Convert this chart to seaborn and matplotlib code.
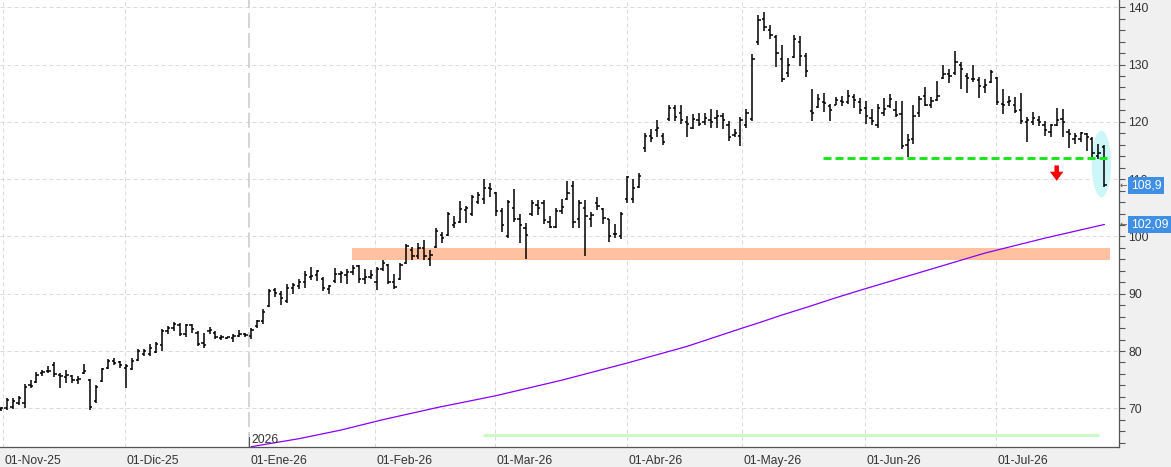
import numpy as np
import pandas as pd
import matplotlib
matplotlib.use("Agg")
import matplotlib.pyplot as plt
import matplotlib.transforms as mtransforms
from matplotlib.patches import Ellipse, FancyArrow
import seaborn as sns

# ---------------- data (daily OHLC bars, trading-day index) ----------------
high_vals = [
    70.3, 71.8, 71.8, 72.2, 74.3, 75.0, 76.4, 76.7, 77.4, 78.1,
    76.2, 76.7, 75.8, 75.7, 77.8, 75.1, 74.1, 77.1, 78.6, 78.8,
    78.3, 77.8, 78.8, 80.4, 80.4, 81.3, 81.5, 83.9, 84.4, 85.1,
    84.9, 84.8, 84.8, 83.5, 83.2, 84.2, 83.5, 82.8, 82.5, 83.0,
    83.7, 83.2, 84.1, 85.5, 87.4, 90.9, 91.0, 90.5, 91.7, 91.9,
    92.6, 94.0, 94.7, 94.2, 93.0, 91.6, 94.5, 94.0, 94.4, 95.1,
    95.1, 94.4, 94.2, 94.7, 95.9, 95.2, 93.5, 95.4, 98.6, 98.2,
    98.9, 99.3, 97.7, 101.4, 100.7, 104.3, 103.6, 106.1, 105.4, 107.3,
    107.7, 110.1, 109.4, 107.8, 105.0, 106.3, 108.2, 104.0, 102.4, 106.4,
    106.3, 106.4, 103.5, 105.0, 106.6, 109.6, 109.6, 106.3, 106.3, 104.3,
    106.8, 105.0, 103.1, 102.2, 104.3, 110.6, 110.1, 111.0, 118.0, 118.7,
    120.4, 118.0, 123.0, 122.9, 122.9, 121.1, 121.3, 121.5, 121.5, 122.2,
    122.0, 121.5, 120.1, 118.8, 120.8, 122.2, 131.8, 138.6, 139.1, 136.9,
    135.1, 133.4, 131.1, 135.1, 134.9, 132.1, 125.7, 124.8, 125.0, 123.2,
    124.4, 124.6, 125.5, 124.8, 124.1, 123.6, 122.3, 123.2, 124.1, 124.8,
    123.6, 123.6, 117.8, 122.9, 124.6, 126.0, 124.4, 127.1, 129.9, 129.2,
    132.3, 130.4, 128.6, 129.9, 127.9, 127.4, 129.0, 127.9, 125.7, 124.6,
    124.3, 125.1, 120.8, 121.8, 121.1, 120.1, 119.7, 122.5, 122.3, 118.8,
    118.1, 118.3, 118.0, 117.3, 116.1, 115.9,
]
low_vals = [
    69.6, 69.7, 69.8, 70.6, 70.1, 73.6, 74.4, 75.7, 76.2, 75.5,
    73.6, 74.4, 74.4, 74.3, 76.0, 69.7, 71.0, 74.6, 76.9, 77.6,
    77.1, 73.6, 76.7, 78.3, 79.2, 79.2, 79.6, 80.0, 83.0, 83.5,
    82.7, 82.5, 83.2, 80.9, 80.6, 83.0, 82.1, 82.0, 82.1, 81.6,
    82.5, 82.5, 82.1, 84.1, 84.8, 87.6, 89.5, 88.1, 88.3, 90.0,
    90.9, 91.0, 92.4, 92.3, 90.4, 90.0, 91.9, 91.9, 91.7, 93.3,
    91.9, 91.7, 92.6, 90.7, 94.0, 91.7, 90.9, 92.4, 95.2, 95.9,
    96.1, 95.9, 94.9, 98.0, 98.9, 100.1, 101.5, 102.4, 102.4, 103.6,
    105.6, 105.6, 106.8, 103.6, 100.7, 99.8, 102.6, 98.9, 96.1, 103.6,
    103.8, 102.1, 101.5, 101.4, 104.0, 106.3, 101.5, 101.5, 96.6, 101.7,
    104.7, 102.2, 99.1, 99.8, 99.6, 105.9, 105.9, 108.4, 114.7, 116.4,
    117.3, 115.9, 120.1, 120.1, 119.7, 117.3, 118.8, 119.2, 119.4, 119.0,
    119.0, 118.7, 116.6, 117.3, 115.7, 119.0, 120.2, 133.4, 135.8, 134.4,
    129.5, 126.9, 127.9, 131.1, 129.7, 127.9, 120.1, 122.5, 121.8, 120.2,
    122.9, 122.7, 123.2, 122.5, 121.3, 119.7, 119.5, 119.0, 121.1, 122.5,
    120.8, 115.2, 113.8, 116.2, 120.8, 122.7, 122.5, 123.6, 127.4, 126.7,
    128.1, 125.7, 125.0, 126.9, 124.1, 125.1, 126.7, 122.9, 121.3, 122.7,
    121.6, 119.7, 116.4, 119.5, 119.2, 117.6, 117.3, 119.2, 117.3, 115.5,
    116.2, 116.4, 115.0, 113.8, 113.6, 108.7,
]
open_vals = [
    69.8, 70.0, 70.3, 71.0, 71.0, 74.0, 74.6, 76.2, 76.5, 77.6,
    75.8, 75.4, 75.6, 75.0, 76.2, 75.0, 71.2, 74.8, 77.0, 78.2,
    78.0, 77.0, 76.8, 78.5, 79.4, 79.5, 79.8, 81.0, 83.5, 84.0,
    84.6, 83.0, 84.5, 83.2, 81.4, 83.5, 83.2, 82.3, 82.2, 82.3,
    82.7, 82.9, 82.6, 84.3, 85.3, 87.8, 90.6, 90.0, 88.8, 91.0,
    91.3, 92.0, 93.0, 93.2, 92.5, 90.8, 92.2, 93.4, 93.2, 93.8,
    94.8, 92.6, 93.0, 92.0, 94.3, 95.0, 92.0, 92.5, 95.3, 97.6,
    96.5, 98.0, 96.0, 98.2, 100.2, 100.3, 102.0, 102.5, 104.6, 104.0,
    106.0, 106.5, 108.4, 107.5, 104.5, 100.0, 105.0, 103.0, 101.5, 104.0,
    105.5, 105.9, 102.6, 101.6, 104.5, 106.5, 108.8, 103.0, 105.0, 103.0,
    105.8, 104.8, 103.0, 100.5, 100.0, 106.5, 106.5, 108.6, 115.5, 117.6,
    118.5, 117.5, 120.5, 122.4, 121.5, 120.0, 119.0, 120.4, 120.0, 120.3,
    120.6, 121.0, 119.5, 117.7, 117.5, 119.5, 120.5, 134.0, 138.0, 136.0,
    134.8, 131.0, 128.5, 131.3, 134.0, 131.5, 121.9, 122.6, 123.5, 122.8,
    123.0, 123.7, 123.5, 124.3, 123.5, 122.5, 120.6, 119.5, 121.5, 122.8,
    122.0, 121.3, 116.0, 117.0, 121.5, 124.5, 123.0, 123.8, 127.7, 128.3,
    128.5, 130.0, 128.0, 127.5, 127.3, 126.0, 127.0, 127.6, 123.2, 123.4,
    123.0, 122.0, 120.0, 120.0, 120.4, 119.5, 118.3, 119.5, 120.5, 118.2,
    117.0, 117.0, 117.8, 117.0, 114.0, 115.6,
]
close_vals = [
    70.0, 71.5, 71.2, 71.8, 73.8, 73.9, 75.8, 76.4, 76.6, 76.0,
    75.6, 75.9, 74.9, 75.1, 76.6, 70.3, 73.8, 76.8, 78.2, 77.9,
    77.6, 77.4, 78.3, 80.0, 80.0, 80.6, 81.2, 83.5, 84.0, 84.8,
    82.9, 84.6, 83.8, 81.3, 81.0, 83.6, 82.5, 82.5, 82.4, 82.6,
    82.9, 82.8, 83.7, 85.3, 86.8, 90.5, 90.2, 89.3, 91.0, 91.6,
    92.0, 93.2, 93.1, 94.0, 91.0, 91.3, 93.5, 93.6, 93.8, 94.5,
    92.5, 93.0, 93.3, 94.3, 95.3, 92.0, 91.2, 95.1, 98.3, 96.5,
    98.0, 96.5, 96.8, 101.0, 99.7, 104.0, 102.3, 104.8, 104.9, 106.8,
    107.3, 108.5, 108.3, 104.5, 102.0, 106.0, 103.0, 102.0, 100.2, 105.8,
    105.0, 102.8, 101.7, 104.5, 105.2, 107.5, 102.5, 105.8, 103.6, 103.8,
    105.3, 103.2, 100.0, 100.5, 104.0, 110.3, 108.5, 110.5, 117.5, 117.2,
    119.0, 116.5, 122.5, 120.8, 120.4, 119.6, 120.5, 119.6, 120.7, 120.0,
    121.0, 120.4, 117.4, 118.1, 120.4, 121.5, 131.0, 137.8, 136.5, 135.2,
    132.0, 127.5, 130.0, 134.5, 131.5, 128.8, 121.6, 124.0, 123.3, 122.1,
    123.8, 123.5, 124.6, 123.8, 122.0, 121.0, 120.2, 122.4, 122.2, 124.0,
    121.2, 115.8, 116.8, 121.0, 124.0, 123.0, 123.6, 124.5, 128.4, 128.0,
    130.5, 129.3, 127.6, 127.4, 126.2, 126.5, 128.7, 123.5, 123.0, 123.6,
    121.9, 120.2, 120.3, 120.6, 120.0, 118.5, 119.4, 120.3, 120.0, 117.8,
    117.5, 118.0, 117.3, 114.5, 114.6, 108.9,
]
assert len(high_vals) == len(low_vals) == len(open_vals) == len(close_vals) == 186

# moving average (sampled along the trading-day index)
ma_idx = [42, 50, 57, 64, 73, 83, 94, 105, 115, 124, 127, 131, 135, 140, 145,
          155, 165, 175, 185]
ma_val = [63.3, 64.7, 66.2, 68.0, 70.1, 72.2, 74.9, 77.9, 80.8, 83.9, 84.9, 86.3,
          87.6, 89.3, 90.9, 94.0, 97.1, 99.7, 102.09]

month_pos = [0.4, 20.8, 41.6, 62.8, 82.8, 104.9, 124.3, 144.9, 166.9]
month_labels = ["01-Nov-25", "01-Dic-25", "01-Ene-26", "01-Feb-26", "01-Mar-26",
                "01-Abr-26", "01-May-26", "01-Jun-26", "01-Jul-26"]
year_pos = 41.6
year_label = "2026"
yticks = [70, 80, 90, 100, 110, 120, 130, 140]

# annotation levels
SUPPORT = 113.7
SUPPORT_X = (137.8, 185.7)
ZONE_LO, ZONE_HI = 95.9, 97.95
ZONE_X = (58.9, 185.9)
FLOOR = 65.3
FLOOR_X = (80.8, 184.1)
ARROW_X, ARROW_TOP, ARROW_BOTTOM = 177.0, 112.4, 109.7
ELLIPSE_C = (184.5, 112.65)
ELLIPSE_WH = (3.24, 11.64)

# ---------------- figure ----------------
sns.set_style("white")
plt.rcParams['font.family'] = ['Liberation Sans', 'DejaVu Sans']

W, H = 1171, 467
PLOT_R, PLOT_B = 1118.7, 446.7
BAR_PX, FIRST_PX = 5.966, 0.7
PANEL = '#f0f0f0'

fig = plt.figure(figsize=(W / 100, H / 100), dpi=100, facecolor=PANEL)
ax = fig.add_axes([0, (H - PLOT_B) / H, PLOT_R / W, PLOT_B / H])
ax.set_facecolor('white')

x = np.arange(len(high_vals))
ax.set_xlim(-FIRST_PX / BAR_PX, (PLOT_R - FIRST_PX) / BAR_PX)
ax.set_ylim(63.3, 141.27)

# grid
for v in yticks:
    ax.axhline(v, color='#dadada', lw=0.72, ls=(0, (4, 3)), zorder=1)
for p in month_pos:
    if p == year_pos:
        continue
    ax.axvline(p, color='#dadada', lw=0.72, ls=(0, (4, 3)), zorder=1)
ax.axvline(year_pos, color='#c8c8c8', lw=1.08, ls=(0, (10, 3.3)), zorder=1)

# support zone & levels
ax.fill_between(list(ZONE_X), ZONE_LO, ZONE_HI, color='#ffc19f', lw=0, zorder=2)
ax.hlines(FLOOR, FLOOR_X[0], FLOOR_X[1], color='#c9fbc6', lw=2.2, zorder=2)
ax.add_patch(Ellipse(ELLIPSE_C, ELLIPSE_WH[0], ELLIPSE_WH[1], fc='#cdf6f9', ec='none', zorder=3))

# moving average
sns.lineplot(x=ma_idx, y=ma_val, ax=ax, color='#8800ff', lw=0.9, zorder=3,
             estimator=None, sort=False, legend=False)

# OHLC bars
ax.vlines(x, low_vals, high_vals, color='black', lw=1.1, zorder=4)
ax.hlines(open_vals, x - 0.38, x, color='black', lw=1.1, zorder=4)
ax.hlines(close_vals, x, x + 0.38, color='black', lw=1.1, zorder=4)

# green dashed support line
ax.hlines(SUPPORT, SUPPORT_X[0], SUPPORT_X[1], color='#1ee61e', lw=2.16,
          linestyles=[(0, (2.67, 1.33))], zorder=5)

# red down arrow
ax.add_patch(FancyArrow(ARROW_X, ARROW_TOP, 0, -(ARROW_TOP - ARROW_BOTTOM),
                        width=0.75, head_width=2.25, head_length=1.6,
                        length_includes_head=True, color='#ff0000', lw=0, zorder=6))

# spines
for s in ['left', 'top']:
    ax.spines[s].set_visible(False)
for s in ['bottom', 'right']:
    ax.spines[s].set_color('#555555')
    ax.spines[s].set_linewidth(0.9)

# y axis on the right
ax.yaxis.tick_right()
ax.set_yticks(yticks)
ax.set_yticklabels([str(v) for v in yticks])
ax.set_yticks([v for v in range(64, 141, 2)], minor=True)
ax.tick_params(axis='y', which='both', direction='out', length=4.3, width=0.8,
               color='#555555', labelsize=8.7, labelcolor='#333333', pad=2.6,
               left=False, right=True)

# x axis ticks and labels
ax.set_xticks(month_pos)
ax.set_xticklabels([])
ax.tick_params(axis='x', direction='out', length=6.5, width=0.8, color='#555555',
               labelbottom=False)
xtrans = mtransforms.blended_transform_factory(ax.transData, ax.transAxes)
for p, lab in zip(month_pos, month_labels):
    ax.text(p + 0.25, -17.3 / PLOT_B, lab, transform=xtrans, ha='left', va='baseline',
            fontsize=8.7, color='#333333', clip_on=False)
ax.plot([year_pos, year_pos], [0, 10 / PLOT_B], transform=xtrans, color='#555555',
        lw=0.8, clip_on=False, zorder=6)
ax.text(year_pos + 0.35, 3.7 / PLOT_B, year_label, transform=xtrans, ha='left',
        va='baseline', fontsize=8.7, color='#333333', zorder=6)

# value boxes on the right axis
rtrans = mtransforms.blended_transform_factory(ax.transAxes, ax.transData)
last_txt = f"{close_vals[-1]:.1f}".replace('.', ',')
ma_txt = f"{ma_val[-1]:.2f}".replace('.', ',')
for val, txt in [(close_vals[-1], last_txt), (ma_val[-1], ma_txt)]:
    ax.text(1119.8 / PLOT_R, val, '←', transform=rtrans, ha='left', va='center',
            fontsize=6.5, family=['DejaVu Sans'], color='#555555', clip_on=False, zorder=10)
    ax.text(1131 / PLOT_R, val, txt, transform=rtrans, ha='left', va='center',
            fontsize=8.7, color='white', clip_on=False, zorder=10,
            bbox=dict(boxstyle='square,pad=0.22', fc='#3f8fe6', ec='none'))

fig.savefig('out.png', dpi=100, facecolor=fig.get_facecolor())
